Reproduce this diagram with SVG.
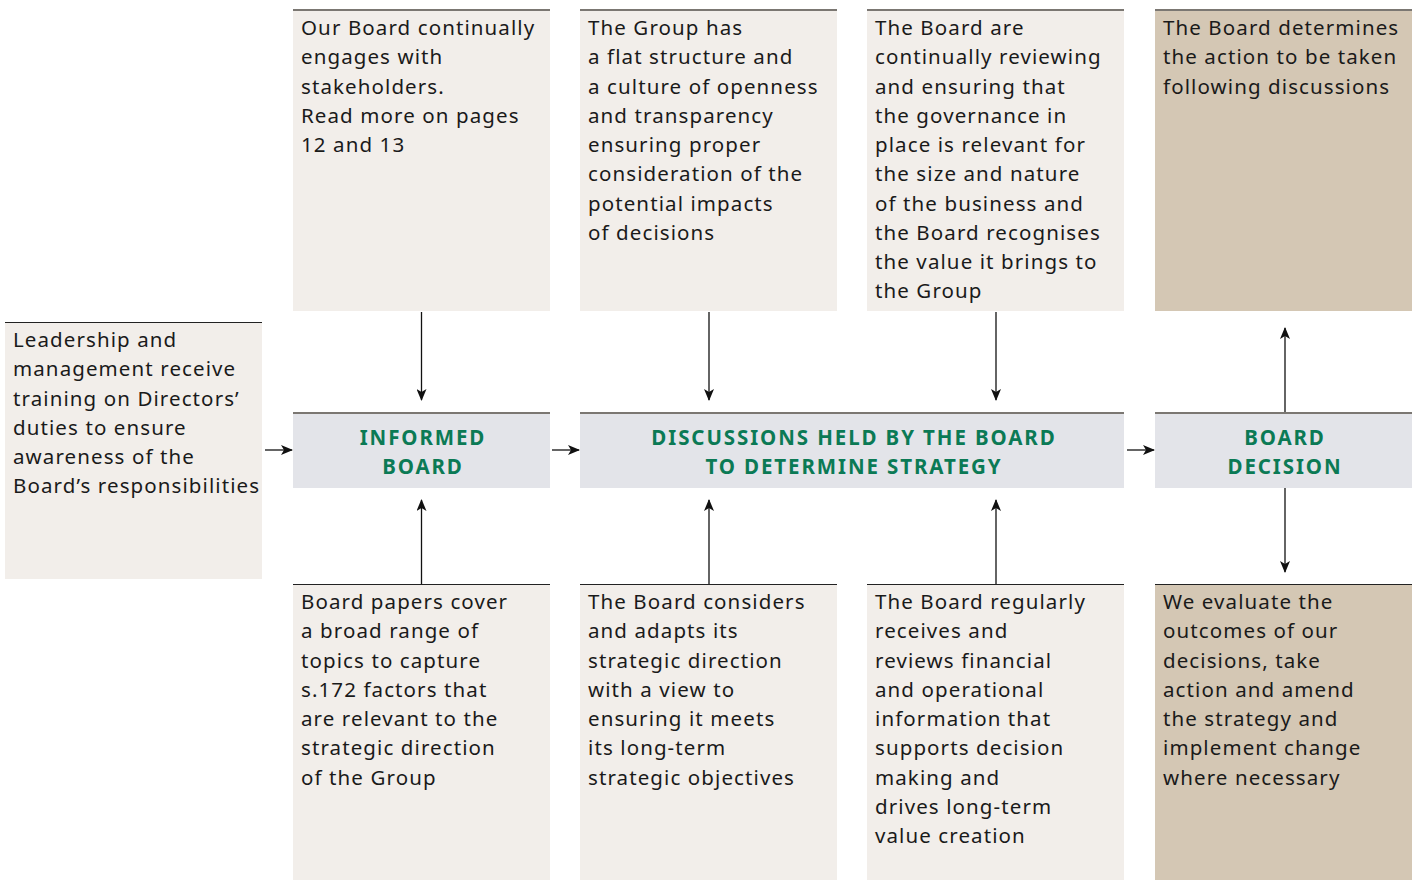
<svg xmlns="http://www.w3.org/2000/svg" width="1417" height="880" viewBox="0 0 1417 880">
  <defs>
    <marker id="arrow" viewBox="0 0 12 10" refX="11" refY="5" markerWidth="12" markerHeight="10" markerUnits="userSpaceOnUse" orient="auto">
      <path d="M0,0 L12,5 L0,10 L3,5 Z" fill="#111"/>
    </marker>
  </defs>
  <style>
    .note { fill: #f2eeea; }
    .tan { fill: #d4c7b4; }
    .hub { fill: #e3e4e9; }
    .rule { stroke: #7b7772; stroke-width: 2; }
    .rule-dark { stroke: #222; stroke-width: 1.2; }
    .txt { font-family: "Noto Sans", "Open Sans", "Liberation Sans", sans-serif; font-size: 20.5px; letter-spacing: 1.1px; fill: #1a1a1a; }
    .head { font-family: "Noto Sans", "Open Sans", "Liberation Sans", sans-serif; font-size: 20.5px; font-weight: bold; fill: #0b7a55; letter-spacing: 1.9px; text-anchor: middle; }
    .conn line { stroke: #111; stroke-width: 1.3; marker-end: url(#arrow); }
  </style>

  <rect width="1417" height="880" fill="#ffffff"/>

  <!-- top row -->
  <g id="engages">
    <rect class="note" x="293" y="10" width="257" height="301"/>
    <line class="rule" x1="293" y1="10" x2="550" y2="10"/>
    <text class="txt" x="301" y="35">
      <tspan x="301" dy="0">Our Board continually</tspan>
      <tspan x="301" dy="29.25">engages with</tspan>
      <tspan x="301" dy="29.25">stakeholders.</tspan>
      <tspan x="301" dy="29.25">Read more on pages</tspan>
      <tspan x="301" dy="29.25">12 and 13</tspan>
    </text>
  </g>
  <g id="flat-structure">
    <rect class="note" x="580" y="10" width="257" height="301"/>
    <line class="rule" x1="580" y1="10" x2="837" y2="10"/>
    <text class="txt" x="588" y="35">
      <tspan x="588" dy="0">The Group has</tspan>
      <tspan x="588" dy="29.25">a flat structure and</tspan>
      <tspan x="588" dy="29.25">a culture of openness</tspan>
      <tspan x="588" dy="29.25">and transparency</tspan>
      <tspan x="588" dy="29.25">ensuring proper</tspan>
      <tspan x="588" dy="29.25">consideration of the</tspan>
      <tspan x="588" dy="29.25">potential impacts</tspan>
      <tspan x="588" dy="29.25">of decisions</tspan>
    </text>
  </g>
  <g id="governance">
    <rect class="note" x="867" y="10" width="257" height="301"/>
    <line class="rule" x1="867" y1="10" x2="1124" y2="10"/>
    <text class="txt" x="875" y="35">
      <tspan x="875" dy="0">The Board are</tspan>
      <tspan x="875" dy="29.25">continually reviewing</tspan>
      <tspan x="875" dy="29.25">and ensuring that</tspan>
      <tspan x="875" dy="29.25">the governance in</tspan>
      <tspan x="875" dy="29.25">place is relevant for</tspan>
      <tspan x="875" dy="29.25">the size and nature</tspan>
      <tspan x="875" dy="29.25">of the business and</tspan>
      <tspan x="875" dy="29.25">the Board recognises</tspan>
      <tspan x="875" dy="29.25">the value it brings to</tspan>
      <tspan x="875" dy="29.25">the Group</tspan>
    </text>
  </g>
  <g id="action">
    <rect class="tan" x="1155" y="10" width="257" height="301"/>
    <line class="rule" x1="1155" y1="10" x2="1412" y2="10"/>
    <text class="txt" x="1163" y="35">
      <tspan x="1163" dy="0">The Board determines</tspan>
      <tspan x="1163" dy="29.25">the action to be taken</tspan>
      <tspan x="1163" dy="29.25">following discussions</tspan>
    </text>
  </g>

  <!-- left input -->
  <g id="training">
    <rect class="note" x="5" y="322" width="257" height="257"/>
    <line class="rule-dark" x1="5" y1="322.5" x2="262" y2="322.5"/>
    <text class="txt" x="13" y="347">
      <tspan x="13" dy="0">Leadership and</tspan>
      <tspan x="13" dy="29.25">management receive</tspan>
      <tspan x="13" dy="29.25">training on Directors’</tspan>
      <tspan x="13" dy="29.25">duties to ensure</tspan>
      <tspan x="13" dy="29.25">awareness of the</tspan>
      <tspan x="13" dy="29.25">Board’s responsibilities</tspan>
    </text>
  </g>

  <!-- middle row -->
  <g id="informed-board">
    <rect class="hub" x="293" y="412" width="257" height="76"/>
    <line class="rule" x1="293" y1="413" x2="550" y2="413"/>
    <text class="head" x="423" y="445">INFORMED</text>
    <text class="head" x="423" y="474">BOARD</text>
  </g>
  <g id="discussions">
    <rect class="hub" x="580" y="412" width="544" height="76"/>
    <line class="rule" x1="580" y1="413" x2="1124" y2="413"/>
    <text class="head" x="854" y="445">DISCUSSIONS HELD BY THE BOARD</text>
    <text class="head" x="854" y="474">TO DETERMINE STRATEGY</text>
  </g>
  <g id="board-decision">
    <rect class="hub" x="1155" y="412" width="257" height="76"/>
    <line class="rule" x1="1155" y1="413" x2="1412" y2="413"/>
    <text class="head" x="1285" y="445">BOARD</text>
    <text class="head" x="1285" y="474">DECISION</text>
  </g>

  <!-- bottom row -->
  <g id="board-papers">
    <rect class="note" x="293" y="584" width="257" height="296"/>
    <line class="rule-dark" x1="293" y1="584.5" x2="550" y2="584.5"/>
    <text class="txt" x="301" y="609">
      <tspan x="301" dy="0">Board papers cover</tspan>
      <tspan x="301" dy="29.25">a broad range of</tspan>
      <tspan x="301" dy="29.25">topics to capture</tspan>
      <tspan x="301" dy="29.25">s.172 factors that</tspan>
      <tspan x="301" dy="29.25">are relevant to the</tspan>
      <tspan x="301" dy="29.25">strategic direction</tspan>
      <tspan x="301" dy="29.25">of the Group</tspan>
    </text>
  </g>
  <g id="strategic-direction">
    <rect class="note" x="580" y="584" width="257" height="296"/>
    <line class="rule-dark" x1="580" y1="584.5" x2="837" y2="584.5"/>
    <text class="txt" x="588" y="609">
      <tspan x="588" dy="0">The Board considers</tspan>
      <tspan x="588" dy="29.25">and adapts its</tspan>
      <tspan x="588" dy="29.25">strategic direction</tspan>
      <tspan x="588" dy="29.25">with a view to</tspan>
      <tspan x="588" dy="29.25">ensuring it meets</tspan>
      <tspan x="588" dy="29.25">its long-term</tspan>
      <tspan x="588" dy="29.25">strategic objectives</tspan>
    </text>
  </g>
  <g id="financial-info">
    <rect class="note" x="867" y="584" width="257" height="296"/>
    <line class="rule-dark" x1="867" y1="584.5" x2="1124" y2="584.5"/>
    <text class="txt" x="875" y="609">
      <tspan x="875" dy="0">The Board regularly</tspan>
      <tspan x="875" dy="29.25">receives and</tspan>
      <tspan x="875" dy="29.25">reviews financial</tspan>
      <tspan x="875" dy="29.25">and operational</tspan>
      <tspan x="875" dy="29.25">information that</tspan>
      <tspan x="875" dy="29.25">supports decision</tspan>
      <tspan x="875" dy="29.25">making and</tspan>
      <tspan x="875" dy="29.25">drives long-term</tspan>
      <tspan x="875" dy="29.25">value creation</tspan>
    </text>
  </g>
  <g id="evaluate">
    <rect class="tan" x="1155" y="584" width="257" height="296"/>
    <line class="rule-dark" x1="1155" y1="584.5" x2="1412" y2="584.5"/>
    <text class="txt" x="1163" y="609">
      <tspan x="1163" dy="0">We evaluate the</tspan>
      <tspan x="1163" dy="29.25">outcomes of our</tspan>
      <tspan x="1163" dy="29.25">decisions, take</tspan>
      <tspan x="1163" dy="29.25">action and amend</tspan>
      <tspan x="1163" dy="29.25">the strategy and</tspan>
      <tspan x="1163" dy="29.25">implement change</tspan>
      <tspan x="1163" dy="29.25">where necessary</tspan>
    </text>
  </g>

  <!-- connectors -->
  <g id="connectors" class="conn">
    <line x1="421.5" y1="312" x2="421.5" y2="400"/>
    <line x1="709" y1="312" x2="709" y2="400"/>
    <line x1="996" y1="312" x2="996" y2="400"/>
    <line x1="421.5" y1="584" x2="421.5" y2="500"/>
    <line x1="709" y1="584" x2="709" y2="500"/>
    <line x1="996" y1="584" x2="996" y2="500"/>
    <line x1="1285" y1="412" x2="1285" y2="328"/>
    <line x1="1285" y1="488" x2="1285" y2="572"/>
    <line x1="265" y1="450" x2="292" y2="450"/>
    <line x1="552" y1="450" x2="579" y2="450"/>
    <line x1="1127" y1="450" x2="1154" y2="450"/>
  </g>
</svg>
